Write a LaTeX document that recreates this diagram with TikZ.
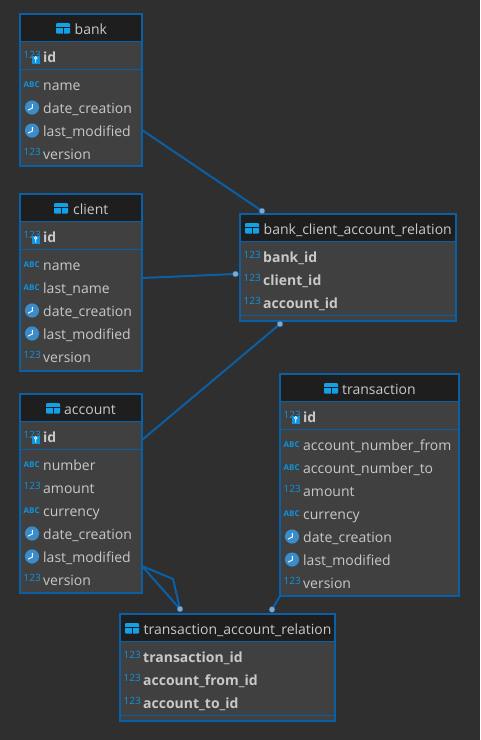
\documentclass[tikz,border=0pt]{standalone}
\usepackage{fontspec}
\usetikzlibrary{calc}
\setmainfont{Open Sans}
\definecolor{bgc}{HTML}{2F2F2F}
\definecolor{tblc}{HTML}{404040}
\definecolor{hdc}{HTML}{1E1E1E}
\definecolor{edgec}{HTML}{0B5FA5}
\definecolor{txtc}{HTML}{C8C8C8}
\definecolor{iconc}{HTML}{0E94E0}
\definecolor{clockc}{HTML}{3A8CCB}
\definecolor{tabic}{HTML}{12A0E8}
\definecolor{dotc}{HTML}{86A8C4}
\tikzset{
  x=1pt,y=-1pt,
  table/.style={draw=edgec,line width=2pt,fill=tblc,anchor=north west,inner sep=0pt,outer sep=0pt},
  title/.style={anchor=base west,inner sep=0pt,text=txtc,font=\fontsize{14}{16}\selectfont},
  field/.style={anchor=base west,inner sep=0pt,text=txtc,font=\fontsize{14}{16}\selectfont},
  keyfield/.style={field,font=\fontsize{14}{16}\selectfont\bfseries},
  num/.style={anchor=base west,inner sep=0pt,text=iconc,font=\fontsize{10}{12}\selectfont},
  abc/.style={anchor=base west,inner sep=0pt,text=iconc,font=\fontsize{8}{10}\selectfont\bfseries},
  rel/.style={draw=edgec,line width=2pt,line join=round},
  enddot/.style={circle,fill=dotc,draw=edgec,line width=.4pt,minimum size=6pt,inner sep=0pt},
  sep/.style={draw=edgec,line width=.7pt}
}
% table: name, x, y, width, height, header bottom, icon x, title x, title
\newcommand{\tbl}[9]{%
  \node[table,minimum width=#4pt,minimum height=#5pt] (#1) at (#2,#3) {};
  \fill[hdc] (#2+1,#3+1) rectangle (#2+#4-1,#6);
  \draw[sep] (#2+1,#6) -- (#2+#4-1,#6);
  \fill[tabic,rounded corners=1pt] (#7,#3+9) rectangle (#7+14,#3+19.5);
  \draw[hdc,line width=.8pt] (#7,#3+13) -- (#7+14,#3+13) (#7+7,#3+13) -- (#7+7,#3+19.5);
  \node[title] (#1t) at (#8,#3+20) {#9};
}
\newcommand{\sepl}[3]{\draw[sep] (#1,#3) -- (#2,#3);}
\newcommand{\clock}[2]{%
  \fill[clockc] (#1+7,#2) circle (7.1);
  \draw[white,line width=.9pt] (#1+7.3,#2-3.5) -- (#1+7.3,#2+.6) -- (#1+3,#2+2.6);
}
\newcommand{\keyic}[2]{%
  \fill[iconc] (#1,#2-2) rectangle (#1+7.5,#2+6);
  \draw[white,line width=.7pt] (#1+3.7,#2) circle (1.4) (#1+3.7,#2+1.4) -- (#1+3.7,#2+4.6);
}
% row kinds: name, table x, centre y, text
\newcommand{\nrow}[4]{\node[num] (#1i) at (#2+3.5,#3+1) {123}; \node[field] (#1) at (#2+23,#3+5) {#4};}
\newcommand{\arow}[4]{\node[abc] (#1i) at (#2+3.5,#3+2.5) {ABC}; \node[field] (#1) at (#2+23,#3+5) {#4};}
\newcommand{\crow}[4]{\clock{#2+5}{#3-.5} \node[field] (#1) at (#2+23,#3+5) {#4};}
\newcommand{\krow}[4]{\node[num] (#1i) at (#2+3.5,#3+1) {123}; \node[keyfield] (#1) at (#2+23,#3+5) {#4};}
\newcommand{\idrow}[3]{\node[num] (#1i) at (#2+3.5,#3+1) {123}; \keyic{#2+12}{#3+1} \node[keyfield] (#1) at (#2+23,#3+5) {id};}
\begin{document}
\begin{tikzpicture}
\useasboundingbox[fill=bgc] (0,0) rectangle (480,740);
% bank
\tbl{bank}{20}{14}{122}{152}{41}{56}{74.5}{bank}
\sepl{21}{141}{69}
\idrow{bid}{20}{57}
\arow{bname}{20}{85}{name}
\crow{bdate}{20}{108}{date\_creation}
\crow{blast}{20}{131}{last\_modified}
\nrow{bver}{20}{154}{version}
% client
\tbl{client}{20}{194}{122}{177}{221}{54}{73}{client}
\sepl{21}{141}{249}
\idrow{cid}{20}{237}
\arow{cname}{20}{265}{name}
\arow{clname}{20}{288}{last\_name}
\crow{cdate}{20}{311}{date\_creation}
\crow{clast}{20}{334}{last\_modified}
\nrow{cver}{20}{357}{version}
% account
\tbl{account}{20}{394}{122}{199}{421}{46}{64}{account}
\sepl{21}{141}{449}
\idrow{aid}{20}{437}
\arow{anum}{20}{465}{number}
\nrow{aamt}{20}{488}{amount}
\arow{acur}{20}{511}{currency}
\crow{adate}{20}{534}{date\_creation}
\crow{alast}{20}{557}{last\_modified}
\nrow{aver}{20}{580}{version}
% transaction
\tbl{transaction}{280}{374}{179}{222}{401}{324}{342}{transaction}
\sepl{281}{458}{429}
\idrow{tid}{280}{417}
\arow{tfrom}{280}{445}{account\_number\_from}
\arow{tto}{280}{468}{account\_number\_to}
\nrow{tamt}{280}{491}{amount}
\arow{tcur}{280}{514}{currency}
\crow{tdate}{280}{537}{date\_creation}
\crow{tlast}{280}{560}{last\_modified}
\nrow{tver}{280}{583}{version}
% bank_client_account_relation
\tbl{bcar}{240}{214}{216}{107}{241}{245}{263.5}{bank\_client\_account\_relation}
\sepl{241}{455}{315}
\krow{bcb}{240}{257}{bank\_id}
\krow{bcc}{240}{280}{client\_id}
\krow{bca}{240}{303}{account\_id}
% transaction_account_relation
\tbl{tar}{120}{614}{215}{107}{641}{125}{143.5}{transaction\_account\_relation}
\sepl{121}{334}{715}
\krow{tat}{120}{657}{transaction\_id}
\krow{taf}{120}{680}{account\_from\_id}
\krow{tao}{120}{703}{account\_to\_id}
% connector ends
\coordinate (sBank) at ($(bank.north east)+(0,116)$);
\coordinate (sClient) at ($(client.north east)+(0,84)$);
\coordinate (sAccount) at ($(account.north east)+(0,46)$);
\coordinate (sAccTwo) at ($(account.north east)+(0,172)$);
\coordinate (bendA) at (173,579);
\coordinate (sTrans) at (transaction.south west);
\draw[rel] (sBank) -- (262,211) node[enddot] (dBank) {};
\draw[rel] (sClient) -- (235.5,274) node[enddot] (dClient) {};
\draw[rel] (sAccount) -- (280,324) node[enddot] (dAccount) {};
\draw[rel] (sAccTwo) -- (180,609) node[enddot] (dAccTwo) {};
\draw[rel] (sAccTwo) -- (bendA) -- (dAccTwo);
\draw[rel] (sTrans) -- (272,609.5) node[enddot] (dTrans) {};
\end{tikzpicture}
\end{document}
